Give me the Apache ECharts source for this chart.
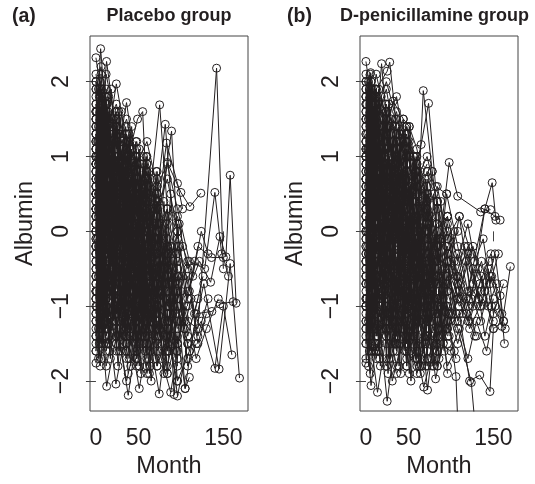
<!DOCTYPE html>
<html>
<head>
<meta charset="utf-8">
<script src="https://cdn.jsdelivr.net/npm/echarts@6/dist/echarts.min.js"></script>
<style>
html, body { margin: 0; padding: 0; background: #fff; }
#main { width: 535px; height: 484px; }
</style>
</head>
<body>
<div id="main"></div>
<script>
// one string per patient: "month value month value ..."
var placebo = [
  '0 2.32 6 1.85 12 1.6 24 1.2 36 0.9 48 1.1',
  '0 1.2 5.5 2.44 12 1.5 25 0.8 37 0.3',
  '0 0.9 6 1.4 12.5 2.27 24 1.3 36 0.6 48 0.2 60 -0.4',
  '0 1.6 6.5 1.9 12 1.1 24 1.97 36 1.2 48 0.5',
  '0 0.3 6 0.8 11.5 0.2 24 0.9 36 1.72 48 0.8 60 0.1 72 -0.6',
  '0 1.0 6 0.4 12 1.1 23 0.6 36 0.9 49 1.5 55 1.6 60 0.4 72 -0.3',
  '0 0.5 5.5 -0.2 12 0.4 24 -0.5 37 0.3 48 0.7 61 0.2 75 1.69 84 0.3',
  '0 0.1 6 0.7 13 1.3 24 0.2 36 -0.4 47 0.3 60 -0.2 72 0.5 81.6 1.43 90 0.2',
  '0 -0.4 6 0.3 12 -0.8 25 0.1 36 -0.3 48 0.6 60 0.9 73 0.1 89 1.34 96 -0.1',
  '0 1.4 6.5 0.9 13 1.7 24 0.5 35 1.0 48 0.3 60 0.8 72 0.2 83 1.18 96 0.64 102 0.3',
  '0 0.7 6 1.2 12 0.6 24 1.4 36 0.4 48 -0.1 59 0.5 72 -0.2 84 0.92 100 0.52 110.6 0.33 123.5 0.51',
  '0 -0.8 6 -0.3 12 -1.1 24 -0.5 36 -1.2 48 -0.6 60 -1.4 72 -0.9 84 -1.6 96 -0.7 108 -1.2 120 -1.3 142 2.18 150 -0.5',
  '0 0.2 6 -0.5 12 0.3 24 -0.9 36 -0.2 48 -1.1 60 -0.4 72 -1.3 84 -0.6 96 -1.5 108 -0.8 122 -0.4 135 -0.68 146 -0.07 153 -0.34 158 0.75 165 -0.96',
  '0 -1.2 6 -0.7 12 -1.5 24 -1.0 36 -1.7 48 -1.1 60 -1.8 72 -1.2 84 -1.9 96 -1.4 105 -2.1 110 -1.95',
  '0 -1.76 6 -1.2 12.6 -2.07 24 -1.4 36 -1.6',
  '0 -0.9 6 -1.5 12 -1.0 23.5 -2.04 36 -1.3 48 -0.8',
  '0 -0.3 6 -1.0 12 -0.5 24 -1.2 38 -2.19 48 -1.4 60 -0.9',
  '0 0.4 6 -0.3 12 -0.9 24 -0.4 36 -1.1 51 -2.1 60 -1.5 72 -0.8',
  '0 -0.6 6 0.1 12 -0.7 24 -0.2 36 -0.9 48 -0.5 60 -1.2 74.5 -2.17 84 -1.3',
  '0 -0.1 6 -0.8 12 -0.2 24 -1.0 36 -0.6 48 -1.3 60 -0.7 72 -1.5 88 -2.15 96 -1.6',
  '0 0.6 6 0.0 12 0.5 24 -0.3 36 0.2 48 -0.6 60 -0.1 72 -0.9 84 -0.4 92 -2.18 100 -1.2',
  '0 0.0 6 0.6 12 -0.2 24 0.4 36 -0.5 48 0.1 60 -0.8 72 -0.3 84 -1.1 96 -2.2 108 -1.5',
  '0 1.1 6 0.5 12 0.9 24 0.3 36 0.7 48 -0.2 60 0.3 72 -0.5 84 -0.1 96 -0.9 105 -2.1 118 -1.1 136.5 -1.07 146 -0.97 161.6 -0.94',
  '0 -1.5 6 -0.9 12 -1.3 24 -0.6 36 -1.0 48 -0.4 60 -1.1 72 -0.5 84 -1.2 96 -0.8 108 -1.5 124 -1.2 140 -1.83 150 -1.0 160 -1.65',
  '0 0.8 6 0.2 12 0.7 24 0.0 36 0.5 48 -0.3 60 0.2 72 -0.6 84 -0.2 96 -1.0 110 -1.6 127 -0.7 145 -1.84 158 -0.43 169 -1.96',
  '0 1.8 6 1.3 12 1.9 24 1.1 36 1.5 48 0.9 60 1.2 72 0.6 84 0.9 96 0.3 110 -0.4 128 -0.5 140 0.52 148 -0.3',
  '0 1.5 5 1.9 12 1.2 24 1.6 36 0.8 48 1.2 60 0.5',
  '0 1.3 6 0.8 12 1.5 24 0.7 36 1.1 48 0.4 60 0.8 72 0.0',
  '0 0.9 6 1.5 12 0.6 24 1.2 36 0.3 48 0.8 60 -0.1',
  '0 0.5 6 1.1 12 0.3 24 0.9 36 0.1 48 0.6 60 -0.3 72 0.4 84 -0.5',
  '0 -0.2 6 0.5 12 -0.4 24 0.3 36 -0.6 48 0.0 60 -0.9 72 -0.2 84 -1.0 96 -0.4',
  '0 0.3 6 -0.4 12 0.6 24 -0.1 36 0.4 48 -0.5 60 0.1',
  '0 -0.5 6 0.2 12 -0.3 24 0.5 36 -0.2 48 -0.9 60 -0.3 72 -1.1',
  '0 1.2 6 0.6 12 1.0 24 0.2 36 0.8 48 0.1 60 0.6 72 -0.1 84 0.3',
  '0 0.0 6 -0.7 12 0.1 24 -0.6 36 0.0',
  '0 -1.0 6 -0.4 12 -1.2 24 -0.7 36 -1.4 48 -0.9',
  '0 -1.3 6 -1.7 12 -0.9 24 -1.5 36 -1.1 48 -1.8 60 -1.2',
  '0 0.7 6 0.1 12 0.8 24 -0.1 36 0.4 48 -0.4 60 0.0 72 -0.7 84 -0.2 96 -1.1',
  '0 1.7 6 1.2 12 2.1 24 1.4 36 1.0',
  '0 2.0 6 1.6 12 1.3 24 0.8 36 1.3 48 0.6',
  '0 1.9 6 2.2 12 1.7 24 1.2 36 0.7 48 1.0 60 0.3',
  '0 1.4 6 1.8 12 1.0 24 1.5 36 0.6 48 0.2',
  '0 0.2 6 0.9 12 0.0 24 0.6 36 -0.4 48 0.4 60 -0.5 72 0.1 84 -0.8 96 -0.2 108 -1.0',
  '0 -0.7 6 -1.3 12 -0.6 24 -1.1 36 -0.5 48 -1.2 60 -0.6 72 -1.4 84 -0.9 96 -1.7',
  '0 -0.4 6 -1.1 12 -0.5 24 -1.3 36 -0.7 48 -1.5 60 -1.0',
  '0 0.1 6 0.5 12 -0.3 24 0.2 36 -0.7 48 -0.2 60 -1.0 72 -0.4 84 -1.3 96 -0.6 108 -1.8 118 -1.5',
  '0 1.0 6 1.4 12 0.8 24 1.2 36 0.4 48 0.9 60 0.2 72 0.6 84 -0.2 96 0.2 108 -0.5',
  '0 0.6 6 1.0 12 0.4 24 0.9 36 0.0 48 0.5 60 -0.4 72 0.2 84 -0.7',
  '0 -1.1 6 -0.5 12 -1.4 24 -0.8 36 -1.6 48 -1.0 60 -1.9 72 -1.3',
  '0 -1.6 6 -1.1 12 -1.8 24 -1.2 36 -2.0 48 -1.4',
  '0 0.4 6 0.9 12 0.1 24 0.7 36 -0.2 48 0.3 60 -0.6 72 -0.1 84 -1.0 96 -0.5 108 -1.4 120 -0.9',
  '0 1.3 6 0.7 12 1.1 24 0.5 36 1.0 48 0.2 60 0.7 72 -0.2 84 0.3 96 -0.5',
  '0 0.8 6 1.3 12 0.5 24 1.0 36 0.2',
  '0 -0.3 6 0.4 12 -0.6 24 0.0 36 -0.8 48 -0.3 60 -1.1',
  '0 1.6 6 1.1 12 1.4 24 0.9 36 1.2 48 0.5 60 0.9 72 0.2',
  '0 -0.8 6 -0.2 12 -0.9 24 -0.3 36 -1.0 48 -0.5 60 -1.2 72 -0.7 84 -1.5 96 -1.0 108 -1.7',
  '0 0.9 6 0.3 12 1.0 24 0.4 36 0.8 48 0.0 60 0.5 72 -0.3 84 0.1 96 -0.6 104 -1.2',
  '0 0.0 6 -0.5 12 0.3 24 -0.4 36 0.1 48 -0.8 60 -0.2 72 -1.0 84 -0.5 96 -1.3',
  '0 1.1 6 1.6 12 0.9 24 1.4 36 0.5 48 1.0 60 0.3 72 0.7',
  '0 -0.2 6 -0.9 12 -0.4 24 -1.1 36 -0.6 48 -1.4 60 -0.8 72 -1.6 84 -1.1',
  '0 2.1 6 1.7 12 1.4 24 1.7 36 1.1',
  '0 0.3 6 1.0 12 0.6 24 1.3 36 0.5 48 0.9 60 0.1 72 0.5 84 -0.3',
  '0 -0.6 6 -1.2 12 -0.8 24 -1.5 36 -0.9 48 -1.7 60 -1.1 72 -1.8 84 -1.4 96 -2.0 110 -1.6',
  '0 1.5 6 1.0 12 1.6 24 0.8 36 1.3 48 0.4 60 1.0 72 0.3 84 0.7 96 0.0',
  '0 0.5 6 -0.1 12 0.6 24 -0.2 36 0.3 48 -0.6 60 -0.1 72 -0.9 84 -0.3 96 -1.2 108 -0.6 120 -1.4 132 -0.9',
  '0 -1.4 6 -0.8 12 -1.6 24 -1.0',
  '0 1.0 6 0.6 12 1.2 24 0.3',
  '0 0.7 6 1.2 12 0.9 24 0.4 36 1.1 48 0.3 60 0.8',
  '0 -0.9 6 -0.3 12 -1.0 24 -0.5 36 -1.3 48 -0.7 60 -1.5 72 -1.0 84 -1.8 96 -1.2',
  '0 0.2 6 0.8 12 0.3 24 1.0 36 0.2 48 0.7 60 -0.1 72 0.4 84 -0.6 96 0.0 108 -0.9 116 -0.4',
  '0 1.3 3 0.2 6 1.5 9 0.1 12 1.2 18 -0.3 24 0.9 30 -0.5 36 0.6',
  '0 -0.5 3 0.9 6 -0.8 9 0.6 12 -1.0 18 0.3 24 -1.1 30 0.1 36 -1.3 42 -0.2 48 -1.4',
  '0 0.8 3 -0.6 6 1.0 9 -0.4 12 0.7 18 -0.8 24 0.5 30 -1.0 36 0.2 42 -1.2 48 0.0 54 -1.4 60 -0.3',
  '0 1.9 3 0.7 6 1.6 9 0.4 12 1.8 18 0.6 24 1.4 30 0.2 36 1.0 42 -0.1 48 0.7',
  '0 -1.4 3 -0.2 6 -1.5 9 0.0 12 -1.3 18 -0.1 24 -1.6 30 -0.4 36 -1.5 42 -0.6 48 -1.7 54 -0.8',
  '0 0.2 3 1.4 6 0.0 9 1.2 12 -0.3 18 1.0 24 -0.5 30 0.8 36 -0.7 42 0.5 48 -0.9 54 0.3 60 -1.1 66 0.0 72 -1.3',
  '0 1.6 4 0.4 8 1.7 14 0.3 20 1.5 28 0.1 34 1.3 40 -0.2 46 1.0 52 -0.4 58 0.7 64 -0.6',
  '0 -0.9 4 0.5 8 -1.1 14 0.4 20 -1.2 28 0.2 34 -1.4 40 0.0 46 -1.5 52 -0.2 58 -1.6 64 -0.5 70 -1.7 78 -0.7 86 -1.6',
  '0 0.5 4 1.8 8 0.3 14 1.6 20 0.1 28 1.3 34 -0.1 40 1.1 46 -0.3 52 0.9 58 -0.5',
  '0 -0.2 4 -1.5 8 0.1 14 -1.3 20 0.2 28 -1.2 34 0.0 40 -1.4 46 -0.2 52 -1.5 58 -0.4 64 -1.6 70 -0.6 78 -1.7 84 -0.8',
  '0 1.1 2 -0.1 5 1.3 10 -0.3 15 1.1 21 -0.4 27 0.9 33 -0.6 39 0.7 45 -0.8 51 0.5 57 -1.0 63 0.3 69 -1.1 75 0.0 81 -1.2 87 -0.2',
  '0 0.0 2 1.2 5 -0.3 10 1.0 15 -0.5 21 0.8 27 -0.7 33 0.6 39 -0.9 45 0.4 51 -1.1 57 0.1 63 -1.3 69 -0.1 75 -1.4',
  '0 1.7 2 1.0 5 2.0 10 0.8 15 1.8 21 0.6 27 1.6 33 0.4 39 1.3 45 0.2 51 1.1 57 0.0 63 0.8',
  '0 -1.1 2 -0.1 5 -1.3 10 -0.2 15 -1.5 21 -0.4 27 -1.6 33 -0.5 39 -1.7 45 -0.7 51 -1.8 57 -0.9 63 -1.9 69 -1.0',
  '0 0.4 7 -0.9 14 0.6 21 -0.8 28 0.5 35 -1.0 42 0.3 49 -1.2 56 0.1 63 -1.3 70 -0.1 77 -1.5 84 -0.3 91 -1.6 98 -0.6',
  '0 1.4 7 0.2 14 1.5 21 0.0 28 1.3 35 -0.2 42 1.1 49 -0.4 56 0.9 63 -0.6 70 0.6 77 -0.8 84 0.3 91 -1.0 98 0.1',
  '0 -0.6 7 0.8 14 -0.8 21 0.7 28 -1.0 35 0.5 42 -1.1 49 0.3 56 -1.3 63 0.1 70 -1.4 77 -0.1 84 -1.6 91 -0.4',
  '0 0.9 1 1.6 3 0.5 6 1.7 9 0.3 12 1.5 16 0.1 20 1.3 26 -0.1 32 1.1',
  '0 -1.6 1 -0.8 3 -1.7 6 -0.6 9 -1.5 12 -0.5 16 -1.6 20 -0.7 26 -1.8 32 -0.9 38 -1.9',
  '0 0.1 1 -1.0 3 0.3 6 -0.9 9 0.4 12 -1.1 16 0.2 20 -1.2 26 0.0 32 -1.3 38 -0.2 44 -1.4 50 -0.4 56 -1.5',
  '0 1.0 5 -0.4 11 1.2 17 -0.5 23 1.0 29 -0.7 35 0.8 41 -0.8 47 0.6 53 -1.0 59 0.4 65 -1.2 71 0.2 77 -1.3 83 0.0 89 -1.4 95 -0.3',
  '0 -0.3 5 1.1 11 -0.5 17 1.0 23 -0.6 29 0.8 35 -0.8 41 0.7 47 -1.0 53 0.5 59 -1.1 65 0.3 71 -1.3 77 0.1 83 -1.4 89 -0.2 95 -1.6 102 -0.6',
  '0 1.5 5 0.6 11 1.8 17 0.4 23 1.6 29 0.3 35 1.4 41 0.1 47 1.2 53 -0.1 59 1.0 65 -0.3 71 0.8',
  '0 -0.8 5 -1.8 11 -0.6 17 -1.7 23 -0.4 29 -1.6 35 -0.5 41 -1.8 47 -0.7 53 -1.9 59 -0.8 65 -2.0 71 -1.0',
  '0 0.6 3 1.9 6 0.4 12 1.7 18 0.2 24 1.5 30 0.0 36 1.2 42 -0.2 48 1.0 54 -0.4 60 0.7 66 -0.6 72 0.4 78 -0.8 84 0.2',
  '0 -0.1 3 -1.3 6 0.2 12 -1.2 18 0.3 24 -1.4 30 0.1 36 -1.5 42 -0.1 48 -1.6 54 -0.3 60 -1.7 66 -0.5 72 -1.8 78 -0.7 84 -1.9 90 -0.9 96 -1.8',
  '0 1.2 8 -0.2 16 1.3 24 -0.3 32 1.1 40 -0.5 48 0.9 56 -0.7 64 0.7 72 -0.9 80 0.4 88 -1.1 96 0.1 104 -1.3',
  '0 0.3 8 1.5 16 0.1 24 1.4 32 -0.1 40 1.2 48 -0.3 56 1.0 64 -0.5 72 0.8 80 -0.7 88 0.5 96 -0.9',
  '0 -1.2 8 0.0 16 -1.4 24 -0.1 32 -1.5 40 -0.3 48 -1.7 56 -0.5 64 -1.8 72 -0.7 80 -1.9 88 -0.9 96 -2.0',
  '0 2.0 3 1.2 6 2.1 12 1.0 18 1.9 24 0.8 30 1.6 36 0.6 42 1.4 48 0.4',
  '0 0.3 12 -0.4 24 0.2 48 -0.6 72 -0.9 96 -0.6 104 -1.3 112 -0.9 120 -1.5 130 -1.1',
  '0 -0.2 12 0.5 36 -0.3 60 -0.8 84 -1.2 100 -0.8 108 -0.4 116 -1.1 126 -0.6',
  '0 0.9 24 0.4 48 0.0 72 -0.3 90 -0.7 102 -0.2 114 -0.6 124 0.0 132 -0.3',
  '0 -0.7 24 -1.0 48 -0.5 72 -1.2 96 -1.5 106 -1.0 118 -1.7 130 -1.3 144 -0.9',
  '0 0.5 24 0.1 48 -0.2 72 -0.5 98 -0.2 110 -0.8 120 -0.2 136 -0.35 150 -0.35 156 -0.6'
];

var penicil = [
  '0 2.27 6 1.8 12 1.4 24 1.1 36 0.7',
  '0 1.5 5.5 2.12 12 1.6 24 0.9 36 1.2 48 0.5',
  '0 1.2 6 1.7 12 1.3 18.4 2.24 24 1.5 36 0.8 48 1.0',
  '0 1.8 6 1.3 12 1.9 25 2.14 28 2.26 36 1.4 48 0.9 60 0.6',
  '0 1.0 6 1.5 12 0.8 24 1.3 32 1.74 44 1.5 51 1.4 60 0.7',
  '0 0.6 6 1.1 12 0.4 24 0.9 36 0.2 48 0.7 60 0.1 67.5 1.88 78 0.8',
  '0 0.9 6 0.3 12 1.0 24 0.4 36 0.9 48 0.3 65 1.16 73.7 1.71 82 0.6 95 0.5',
  '0 0.3 6 0.9 12 0.2 24 0.8 36 0.0 48 0.5 60 -0.2 72 0.3 84 -0.4 98 0.92 108 0.47 135 0.26 146.7 0.29',
  '0 -0.2 6 0.4 12 -0.5 24 0.2 36 -0.7 48 -0.1 60 -0.9 72 -0.3 84 -1.1 96 -0.6 110 0.2 124 -0.9 140 0.3 148.6 0.65 153 0.15',
  '0 0.1 6 -0.6 12 0.2 24 -0.4 36 0.3 48 -0.5 60 0.0 72 -0.8 84 -0.2 96 -1.0 106 -1.94 111 -3.4',
  '0 -0.5 6 0.0 12 -0.8 24 -0.2 36 -1.0 48 -0.4 60 -1.2 72 -0.6 84 -1.4 96 -0.8 108 -1.3 124 -2.02 134 -3.3',
  '0 -1.76 6 -1.2 12 -1.6 24 -1.0 36 -1.4',
  '0 -1.3 6 -2.06 12 -1.5 24 -1.8 36 -1.2 48 -1.6',
  '0 -1.0 6 -1.5 13.6 -2.15 24 -1.4 36 -1.9',
  '0 -0.7 6 -1.2 12 -0.8 25 -2.27 36 -1.3 48 -0.9',
  '0 -0.4 6 -1.1 12 -0.6 24 -1.3 31 -2.0 48 -1.2 60 -1.7',
  '0 -0.9 6 -0.3 12 -1.1 24 -0.6 36 -1.4 48 -0.8 60 -1.6 68 -2.08 84 -1.4',
  '0 -0.1 6 -0.7 12 -0.2 24 -0.9 36 -0.4 48 -1.1 60 -0.6 72.5 -2.12 84 -1.0 96 -1.5',
  '0 0.4 6 -0.2 12 0.5 24 -0.3 36 0.1 48 -0.7 60 -0.2 72 -1.0 82 -1.97 96 -1.2 106 -1.7',
  '0 -1.5 6 -1.0 12 -1.7 24 -1.1 36 -1.8 48 -1.3 60 -1.9 72 -1.4 84 -1.8 96 -1.3 110 -1.1 122 -2.0 134 -1.92 146 -2.14 150 -1.3',
  '0 -0.6 6 -1.3 12 -0.7 24 -1.5 36 -0.9 48 -1.7 60 -1.0 72 -1.8 84 -1.2 96 -0.6 110 -1.0 122 -0.8 135 -1.2 148 -0.6 158 -0.86 163 -1.5',
  '0 0.2 6 -0.4 12 0.3 24 -0.5 36 0.0 48 -0.8 60 -0.3 72 -1.1 84 -0.6 96 -1.3 108 -0.9 120 -1.2 134 -0.7 147 -0.3 160 -1.27 170 -0.47',
  '0 0.8 6 0.2 12 0.9 24 0.1 36 0.6 48 -0.2 60 0.3 72 -0.5 84 0.0 96 -0.8 108 -0.3 120 -1.0 132 -0.5 150 -1.3 162 -1.2',
  '0 0.5 6 1.0 12 0.3 24 0.8 36 0.0 48 0.6 60 -0.3 72 0.2 84 -0.6 95 0.5 108 -0.2 120 -0.8 140 0.3 152 0.2 158 0.15',
  '0 1.4 6 0.9 12 1.6 24 1.0 36 1.3 44 1.5 48 0.6 60 1.0 72 0.3 84 0.6 96 -0.1 110 0.2 124 -0.3',
  '0 1.7 6 2.0 12 1.5 24 1.9 36 1.1 48 1.4 60 0.8',
  '0 2.0 6 1.6 12 2.1 24 1.5 36 1.8 48 1.0',
  '0 1.9 6 1.4 12 1.7 24 1.2 36 1.6 48 0.9 51 1.4 60 1.1 72 0.4',
  '0 1.1 6 1.6 12 0.9 24 1.4 36 0.6 48 1.1 60 0.4 72 0.8 84 0.1',
  '0 0.0 6 0.6 12 -0.3 24 0.4 36 -0.5 48 0.1 60 -0.7 72 -0.2 84 -1.0 96 -0.4 106 -1.1',
  '0 -0.3 6 0.3 12 -0.6 24 0.1 36 -0.8 48 -0.2 60 -1.0 72 -0.5 84 -1.3 96 -0.7',
  '0 0.7 6 0.1 12 0.8 24 0.0 36 0.5 48 -0.3 60 0.2 72 -0.6 84 -0.1',
  '0 1.3 6 0.7 12 1.4 24 0.6 36 1.1 48 0.3 60 0.8 72 0.0 78 0.8 84 0.3 96 -0.4',
  '0 -0.8 6 -0.2 12 -1.0 24 -0.4 36 -1.2 48 -0.6 60 -1.4 72 -0.8',
  '0 -1.2 6 -0.6 12 -1.4 24 -0.8 36 -1.6 48 -1.0 60 -1.8 72 -1.2 84 -1.6',
  '0 0.9 6 1.4 12 0.7 24 1.2 36 0.4 48 0.9 60 0.1 72 0.6 84 -0.2 96 0.2',
  '0 1.6 6 1.2 12 1.8 24 1.3 36 0.9 48 1.3',
  '0 0.4 6 1.0 12 0.5 24 1.1 36 0.3 48 0.8 60 0.0 72 0.5 84 -0.3 96 0.1 108 -0.6 120 -0.2 132 -0.9 145 -0.4',
  '0 -0.4 6 0.2 12 -0.5 24 0.3 36 -0.6 48 0.0 60 -0.8',
  '0 1.0 6 0.5 12 1.2 24 0.7 36 1.0 48 0.4 60 0.9 72 0.2',
  '0 0.1 6 0.7 12 0.0 24 0.5 36 -0.3 48 0.2 60 -0.6 72 -0.1 84 -0.9 96 -0.4 108 -1.2 118 -0.9 130 -1.4',
  '0 1.5 6 1.9 12 1.2 24 1.7 36 1.0 48 1.3 60 0.6 72 0.9',
  '0 -1.1 6 -1.6 12 -0.9 24 -1.4 36 -0.8 48 -1.5 60 -1.0',
  '0 0.6 6 0.0 12 0.7 24 -0.1 36 0.4 48 -0.4 60 0.1 72 -0.7 84 -0.2 96 -1.1 108 -0.6 122 -1.3 138 -0.9 150 -1.2',
  '0 -0.7 6 -0.1 12 -0.9 24 -0.3 36 -1.1 48 -0.5 60 -1.3 72 -0.7 84 -1.5 96 -1.0 108 -1.5 118 -1.1 128 -1.4',
  '0 1.2 6 1.7 12 1.0 24 1.5 36 0.7 48 1.2 60 0.5',
  '0 0.3 6 -0.3 12 0.4 24 -0.2 36 0.2 48 -0.6 60 -0.1 72 -0.9 84 -0.4 96 -1.2 108 -0.7',
  '0 1.8 6 1.3 12 1.6 24 2.0 36 1.5 48 1.2 60 0.9',
  '0 -1.4 6 -0.9 12 -1.6 24 -1.0 36 -1.5',
  '0 0.8 6 1.3 12 0.6 24 1.1 36 0.3 48 0.8 60 0.0 72 0.4 84 -0.4 96 0.0 108 -0.7 120 -0.3 134 -1.0 146 -0.6 160 -1.1',
  '0 -0.2 6 -0.8 12 -0.1 24 -0.7 36 0.0 48 -0.9 60 -0.4 72 -1.2 84 -0.7 96 -1.4',
  '0 2.1 6 1.7 12 1.9 24 1.3 36 1.0',
  '0 0.5 6 1.2 12 0.2 24 0.9 36 -0.1 48 0.5 60 -0.4 72 0.1 84 -0.7 96 -0.2 108 -0.9',
  '0 -0.5 6 -1.0 12 -0.4 24 -1.2 36 -0.6 48 -1.4 60 -0.8 72 -1.6 84 -1.0 96 -1.8 104 -1.6',
  '0 1.1 6 0.4 12 1.2 24 0.5 36 0.9 48 0.2 60 0.6',
  '0 -0.1 6 0.5 12 -0.3 24 0.3 36 -0.5 48 0.1 60 -0.7 72 -0.2 84 -0.9 96 -0.3 110 -0.8 126 -0.2 140 -0.8 152 -0.3 162 -1.2',
  '0 0.0 6 -0.6 12 0.1 24 -0.5 36 0.2 48 -0.7 60 -0.2 72 -1.0',
  '0 1.4 6 1.9 12 1.1 24 1.6 36 0.9 48 1.4 60 0.7 72 1.0 84 0.4',
  '0 -1.0 6 -0.5 12 -1.3 24 -0.7 36 -1.5 48 -0.9 60 -1.7 72 -1.1',
  '0 0.9 6 0.3 12 1.1 24 0.5 36 0.8 48 0.1 60 0.6 72 -0.1 84 0.4 96 -0.3 108 0.0',
  '0 1.0 3 -0.3 6 1.2 9 -0.2 12 1.1 18 -0.4 24 0.9 30 -0.6 36 0.7 42 -0.8 48 0.4',
  '0 -0.6 3 0.8 6 -0.9 9 0.7 12 -1.1 18 0.5 24 -1.2 30 0.3 36 -1.4 42 0.1 48 -1.5 54 -0.1',
  '0 0.7 3 -0.7 6 0.9 9 -0.5 12 0.8 18 -0.9 24 0.6 30 -1.1 36 0.3 42 -1.3 48 0.1 54 -1.4 60 -0.2 66 -1.5',
  '0 2.0 3 0.8 6 1.8 9 0.5 12 1.9 18 0.7 24 1.6 30 0.3 36 1.2 42 0.0 48 0.9',
  '0 -1.5 3 -0.3 6 -1.6 9 -0.1 12 -1.4 18 -0.2 24 -1.7 30 -0.5 36 -1.6 42 -0.7 48 -1.8 54 -0.9 60 -1.7',
  '0 0.3 3 1.5 6 0.1 9 1.3 12 -0.2 18 1.1 24 -0.4 30 0.9 36 -0.6 42 0.6 48 -0.8 54 0.4 60 -1.0 66 0.1 72 -1.2 78 -0.1',
  '0 1.7 4 0.5 8 1.8 14 0.4 20 1.6 28 0.2 34 1.4 40 -0.1 46 1.1 52 -0.3 58 0.8 64 -0.5 70 0.5',
  '0 -1.0 4 0.4 8 -1.2 14 0.3 20 -1.3 28 0.1 34 -1.5 40 -0.1 46 -1.6 52 -0.3 58 -1.7 64 -0.6 70 -1.8 78 -0.8 86 -1.7 94 -1.0',
  '0 0.6 4 1.9 8 0.4 14 1.7 20 0.2 28 1.4 34 0.0 40 1.2 46 -0.2 52 1.0 58 -0.4 64 0.6',
  '0 -0.3 4 -1.6 8 0.0 14 -1.4 20 0.1 28 -1.3 34 -0.1 40 -1.5 46 -0.3 52 -1.6 58 -0.5 64 -1.7 70 -0.7 78 -1.8 84 -0.9 92 -1.6',
  '0 1.2 2 0.0 5 1.4 10 -0.2 15 1.2 21 -0.3 27 1.0 33 -0.5 39 0.8 45 -0.7 51 0.6 57 -0.9 63 0.4 69 -1.0 75 0.1 81 -1.1 87 -0.1',
  '0 0.1 2 1.3 5 -0.2 10 1.1 15 -0.4 21 0.9 27 -0.6 33 0.7 39 -0.8 45 0.5 51 -1.0 57 0.2 63 -1.2 69 0.0 75 -1.3 82 -0.4',
  '0 1.8 2 1.1 5 2.1 10 0.9 15 1.9 21 0.7 27 1.7 33 0.5 39 1.4 45 0.3 51 1.2 57 0.1',
  '0 -1.2 2 -0.2 5 -1.4 10 -0.3 15 -1.6 21 -0.5 27 -1.7 33 -0.6 39 -1.8 45 -0.8 51 -1.9 57 -1.0 63 -1.8',
  '0 0.5 7 -0.8 14 0.7 21 -0.7 28 0.6 35 -0.9 42 0.4 49 -1.1 56 0.2 63 -1.2 70 0.0 77 -1.4 84 -0.2 91 -1.5 98 -0.5 105 -1.2',
  '0 1.5 7 0.3 14 1.6 21 0.1 28 1.4 35 -0.1 42 1.2 49 -0.3 56 1.0 63 -0.5 70 0.7 77 -0.7 84 0.4 91 -0.9',
  '0 -0.7 7 0.7 14 -0.9 21 0.6 28 -1.1 35 0.4 42 -1.2 49 0.2 56 -1.4 63 0.0 70 -1.5 77 -0.2 84 -1.6 91 -0.5 98 -1.4',
  '0 1.0 1 1.7 3 0.6 6 1.8 9 0.4 12 1.6 16 0.2 20 1.4 26 0.0 32 1.2 38 -0.2',
  '0 -1.7 1 -0.9 3 -1.8 6 -0.7 9 -1.6 12 -0.6 16 -1.7 20 -0.8 26 -1.9 32 -1.0',
  '0 0.2 1 -0.9 3 0.4 6 -0.8 9 0.5 12 -1.0 16 0.3 20 -1.1 26 0.1 32 -1.2 38 -0.1 44 -1.3 50 -0.3 56 -1.4 62 -0.5',
  '0 1.1 5 -0.3 11 1.3 17 -0.4 23 1.1 29 -0.6 35 0.9 41 -0.7 47 0.7 53 -0.9 59 0.5 65 -1.1 71 0.3 77 -1.2 83 0.1 89 -1.3 95 -0.2 101 -1.1',
  '0 -0.4 5 1.2 11 -0.6 17 1.1 23 -0.7 29 0.9 35 -0.9 41 0.8 47 -1.1 53 0.6 59 -1.2 65 0.4 71 -1.4 77 0.2 83 -1.5 89 -0.1 95 -1.3',
  '0 1.6 5 0.7 11 1.9 17 0.5 23 1.7 29 0.4 35 1.5 41 0.2 47 1.3 53 0.0 59 1.0 65 -0.2',
  '0 -0.9 5 -1.9 11 -0.7 17 -1.8 23 -0.5 29 -1.7 35 -0.6 41 -1.9 47 -0.8 53 -2.0 59 -0.9 65 -1.8 71 -1.0 77 -1.7',
  '0 0.7 3 2.0 6 0.5 12 1.8 18 0.3 24 1.6 30 0.1 36 1.3 42 -0.1 48 1.1 54 -0.3 60 0.8 66 -0.5 72 0.5 78 -0.7',
  '0 0.0 3 -1.2 6 0.3 12 -1.1 18 0.4 24 -1.3 30 0.2 36 -1.4 42 0.0 48 -1.5 54 -0.2 60 -1.6 66 -0.4 72 -1.7 78 -0.6 84 -1.8 90 -0.8',
  '0 1.3 8 -0.1 16 1.4 24 -0.2 32 1.2 40 -0.4 48 1.0 56 -0.6 64 0.8 72 -0.8 80 0.5 88 -1.0 96 0.2',
  '0 0.4 8 1.6 16 0.2 24 1.5 32 0.0 40 1.3 48 -0.2 56 1.0 64 -0.4 72 0.7 80 -0.6 88 0.4 96 -0.8 104 0.0',
  '0 -1.3 8 -0.1 16 -1.5 24 -0.2 32 -1.6 40 -0.4 48 -1.8 56 -0.6 64 -1.9 72 -0.8 80 -1.8 88 -1.0 96 -1.9',
  '0 1.9 3 1.1 6 2.0 12 0.9 18 1.8 24 0.7 30 1.5 36 0.5 42 1.3 48 0.3',
  '0 0.2 24 -0.3 48 -0.6 72 -0.9 96 -0.5 110 -0.9 118 -0.4 126 -1.0 136 -0.6 144 -1.0 154 -0.7',
  '0 -0.6 24 -0.9 48 -1.1 72 -0.7 100 -1.2 112 -0.7 122 -1.2 132 -0.8 140 -1.4 150 -0.9',
  '0 1.0 24 0.5 48 0.3 72 -0.1 96 0.2 108 -0.4 120 0.1 128 -0.4 138 -0.1 146 -0.7 156 -0.3',
  '0 0.4 24 0.0 48 -0.4 72 -0.7 104 -0.4 114 -1.1 126 -0.5 136 -1.0 144 -0.5 150 -1.1 162 -0.7',
  '0 -1.0 24 -1.3 48 -0.9 72 -1.4 100 -1.6 110 -1.3 120 -1.7 130 -1.2 142 -1.6 152 -1.0',
  '0 0.7 24 0.3 48 0.0 72 -0.4 96 -0.1 106 -0.6 116 -0.2 126 -0.7 136 -0.4 148 -1.0 164 -1.3'
];

var monthTicks = [0, 50, 100, 150];
var monthLabels = [0, 50, 150];
var albuminTicks = [-2, -1, 0, 1, 2];

var ink = '#231f20';
var font = '"Liberation Sans", Arial, Helvetica, sans-serif';

function toPairs(s) {
    var v = s.split(' ').map(Number);
    var out = [];
    for (var i = 0; i < v.length; i += 2) {
        out.push([v[i], v[i + 1]]);
    }
    return out;
}

function makeX(idx) {
    return {
        type: 'value',
        gridIndex: idx,
        min: -7,
        max: 179,
        axisLine: { show: false },
        axisTick: {
            show: true,
            customValues: monthTicks,
            length: 10,
            lineStyle: { color: '#444', width: 1 }
        },
        axisLabel: {
            customValues: monthLabels,
            margin: 16,
            fontSize: 23,
            fontFamily: font,
            color: ink
        },
        splitLine: { show: false },
        name: 'Month',
        nameLocation: 'middle',
        nameGap: 44,
        nameTextStyle: { fontSize: 23.5, fontFamily: font, color: ink }
    };
}

function makeY(idx) {
    return {
        type: 'value',
        gridIndex: idx,
        min: -2.4,
        max: 2.61,
        axisLine: { show: false },
        axisTick: {
            show: true,
            customValues: albuminTicks,
            length: 10,
            lineStyle: { color: '#444', width: 1 }
        },
        axisLabel: {
            customValues: albuminTicks,
            rotate: 90,
            margin: 17,
            fontSize: 23,
            fontFamily: font,
            color: ink,
            formatter: function (v) {
                return v < 0 ? '\u2212' + (-v) : String(v);
            }
        },
        splitLine: { show: false },
        name: 'Albumin',
        nameLocation: 'middle',
        nameGap: 52,
        nameTextStyle: { fontSize: 23.5, fontFamily: font, color: ink }
    };
}

function subjectSeries(list, idx) {
    return list.map(function (s) {
        return {
            type: 'line',
            xAxisIndex: idx,
            yAxisIndex: idx,
            data: toPairs(s),
            symbol: 'circle',
            symbolSize: 8,
            showAllSymbol: true,
            clip: true,
            silent: true,
            lineStyle: { color: ink, width: 1 },
            itemStyle: { color: 'rgba(0,0,0,0)', borderColor: ink, borderWidth: 1 }
        };
    });
}

var chart = echarts.init(document.getElementById('main'), null, { renderer: 'canvas' });

option = {
    backgroundColor: '#fff',
    animation: false,
    grid: [
        { left: 90, top: 36, width: 158, height: 377, show: true, borderColor: '#444', borderWidth: 1, backgroundColor: 'transparent' },
        { left: 360, top: 36, width: 158, height: 377, show: true, borderColor: '#444', borderWidth: 1, backgroundColor: 'transparent' }
    ],
    xAxis: [makeX(0), makeX(1)],
    yAxis: [makeY(0), makeY(1)],
    graphic: [
        { type: 'text', x: 12, y: 17, style: { text: '(a)', font: 'bold 19.5px ' + font, fill: ink, textAlign: 'left', textVerticalAlign: 'middle' } },
        { type: 'text', x: 169, y: 16, style: { text: 'Placebo group', font: 'bold 18px ' + font, fill: ink, textAlign: 'center', textVerticalAlign: 'middle' } },
        { type: 'text', x: 287, y: 17, style: { text: '(b)', font: 'bold 19.5px ' + font, fill: ink, textAlign: 'left', textVerticalAlign: 'middle' } },
        { type: 'text', x: 340, y: 16, style: { text: 'D-penicillamine group', font: 'bold 18px ' + font, fill: ink, textAlign: 'left', textVerticalAlign: 'middle' } }
    ],
    series: subjectSeries(placebo, 0).concat(subjectSeries(penicil, 1))
};

chart.setOption(option);
</script>
</body>
</html>
